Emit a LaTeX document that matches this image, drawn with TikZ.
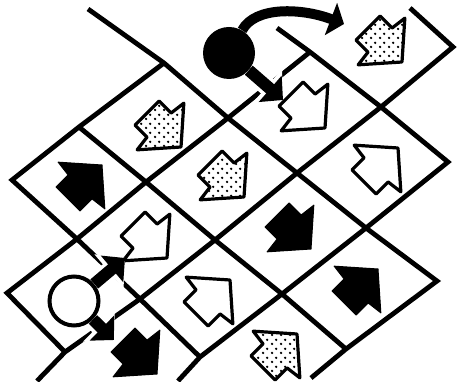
\documentclass[tikz,border=0pt]{standalone}
\usepackage{tikz}
\usetikzlibrary{arrows.meta,patterns}

\pgfdeclarepatternformonly{bigdots}{\pgfqpoint{0pt}{0pt}}{\pgfqpoint{9pt}{9pt}}%
  {\pgfqpoint{9pt}{9pt}}{%
  \pgfpathcircle{\pgfqpoint{2.25pt}{2.25pt}}{1.4pt}%
  \pgfpathcircle{\pgfqpoint{6.75pt}{6.75pt}}{1.4pt}%
  \pgfusepath{fill}}

\begin{document}
\begin{tikzpicture}[x=1pt, y=-1pt,
    gridline/.style={line width=4.8pt, line join=miter},
    blockarrow/.pic={\path[pic actions] (0,0) -- (-29,33) -- (-31,17) -- (-48,17)
      -- (-48,-17) -- (-31,-17) -- (-29,-33) -- cycle;},
    blackarr/.style={fill=black, draw=black, line width=1pt, line join=round},
    whitearr/.style={fill=white, draw=black, line width=3.2pt, line join=round},
    dotarr/.style={pattern=bigdots, draw=black, line width=3.2pt, line join=round},
    disc/.style={circle, minimum size=49pt, inner sep=0pt},
    fat/.style={line width=12pt, -{Triangle[length=17pt, width=34pt]},
      preaction={draw=white, line width=19pt, -{Triangle[length=21pt, width=44pt]}}},
  ]
    \path[fill=white, use as bounding box] (0,0) rectangle (458,382);

    % corners of the cells
    \coordinate (p00) at (12,180);
    \coordinate (p01) at (79,127);
    \coordinate (p02) at (164,63);
    \coordinate (p1m) at (7,293);
    \coordinate (p10) at (77,239);
    \coordinate (p11) at (146,182);
    \coordinate (p12) at (228,118);
    \coordinate (p13) at (310,52);
    \coordinate (p2m) at (65,352);
    \coordinate (p20) at (140,299);
    \coordinate (p21) at (215,240);
    \coordinate (p22) at (297,173);
    \coordinate (p23) at (381,107);
    \coordinate (p24) at (453,47);
    \coordinate (p30) at (200,357);
    \coordinate (p31) at (282,294);
    \coordinate (p32) at (366,228);
    \coordinate (p33) at (448,162);
    \coordinate (p41) at (346,349);
    \coordinate (p42) at (437,281);
    % loose ends
    \coordinate (d2s) at (88,9);
    \coordinate (d3s) at (277,28);
    \coordinate (d4s) at (410,8);
    \coordinate (u2e) at (37,381);
    \coordinate (u3e) at (178,381);
    \coordinate (u4e) at (311,378);

    % grid
    \draw[gridline] (p02) -- (p01) -- (p00) -- (p10) -- (p20) -- (p30);
    \draw[gridline] (p13) -- (p12) -- (p11) -- (p10) -- (p1m) -- (p2m);
    \draw[gridline] (u2e) -- (p2m) -- (p20) -- (p21) -- (p22) -- (p23) -- (p24) -- (d4s);
    \draw[gridline] (d3s) -- (p13) -- (p23) -- (p33) -- (p32) -- (p31) -- (p30) -- (u3e);
    \draw[gridline] (d2s) -- (p02) -- (p12) -- (p22) -- (p32) -- (p42) -- (p41) -- (u4e);
    \draw[gridline] (p01) -- (p11) -- (p21) -- (p31) -- (p41);

    % arrows in the cells
    \pic[blackarr, rotate=45] at (102,165) {blockarrow};
    \pic[dotarr, rotate=-45] at (181,147) {blockarrow};
    \pic[whitearr, rotate=-45] at (167,258) {blockarrow};
    \pic[dotarr, rotate=-45] at (244,197) {blockarrow};
    \pic[whitearr, rotate=-45] at (325,128) {blockarrow};
    \pic[dotarr, rotate=-45] at (402,62) {blockarrow};
    \pic[whitearr, rotate=45] at (230,280) {blockarrow};
    \pic[blackarr, rotate=-45] at (311,249) {blockarrow};
    \pic[whitearr, rotate=45] at (398,148) {blockarrow};
    \pic[dotarr, rotate=45] at (297,334) {blockarrow};
    \pic[blackarr, rotate=45] at (378,269) {blockarrow};
    \pic[blackarr, rotate=-45] at (157,374) {blockarrow};

    % black disc
    \node[disc, fill=black, minimum size=52pt] (bdisc) at (229,53) {};
    \coordinate (btip) at (283,100);
    \coordinate (bend) at (344,24);
    \draw[fat] (bdisc) -- (btip);
    \draw[line width=10pt, -{Triangle[length=14pt, width=34pt]}]
      (bdisc.60) .. controls (255,6) and (302,8) .. (bend);

    % white disc
    \node[disc, draw, fill=white, line width=4pt] (wdisc) at (74,301) {};
    \coordinate (wup) at (125,258);
    \coordinate (wdown) at (114,340);
    \draw[fat] (wdisc) -- (wup);
    \draw[fat] (wdisc) -- (wdown);
\end{tikzpicture}
\end{document}
